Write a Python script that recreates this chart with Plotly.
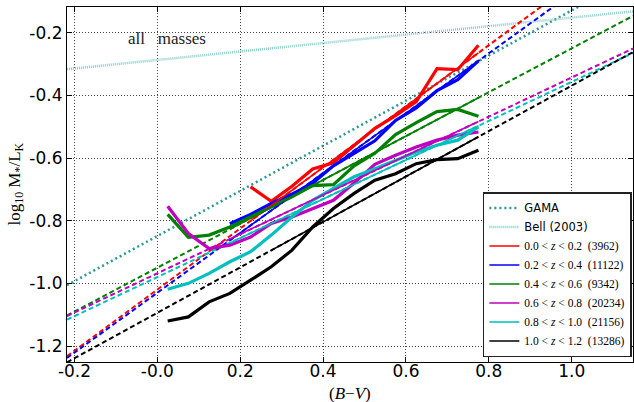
import plotly.graph_objects as go

# ---- data ----
bv = [0.025, 0.075, 0.125, 0.175, 0.225, 0.275, 0.325, 0.375,
      0.425, 0.475, 0.525, 0.575, 0.625, 0.675, 0.725, 0.775]

med_z1 = [None, None, None, None, -0.692, -0.738, -0.690, -0.635,
          -0.615, -0.560, -0.505, -0.465, -0.420, -0.315, -0.318, -0.240]
med_z2 = [None, None, None, -0.810, -0.780, -0.745, -0.715, -0.680,
          -0.625, -0.585, -0.545, -0.480, -0.440, -0.385, -0.350, -0.290]
med_z3 = [-0.780, -0.853, -0.846, -0.820, -0.788, -0.757, -0.724, -0.688,
          -0.685, -0.625, -0.585, -0.525, -0.487, -0.452, -0.445, -0.467]
med_z4 = [-0.754, -0.841, -0.889, -0.878, -0.852, -0.809, -0.788, -0.761,
          -0.735, -0.680, -0.620, -0.591, -0.565, -0.543, -0.527, -0.517]
med_z5 = [-1.019, -1.000, -0.968, -0.931, -0.899, -0.846, -0.788, -0.735,
          -0.697, -0.660, -0.634, -0.607, -0.581, -0.559, -0.543, -0.501]
med_z6 = [-1.120, -1.107, -1.059, -1.032, -0.990, -0.947, -0.894, -0.820,
          -0.761, -0.713, -0.671, -0.650, -0.618, -0.605, -0.602, -0.575]

fit_intercepts = [-1.020, -1.030, -0.950, -0.968, -0.980, -1.094]
fit_slopes = [0.975, 0.955, 0.700, 0.625, 0.623, 0.725]
fit_xmin = [0.225, 0.175, 0.175, 0.175, 0.175, 0.275]
fit_xmax = [0.775, 0.775, 0.775, 0.775, 0.775, 0.775]

bin_labels = ["0.0", "0.2", "0.4", "0.6", "0.8", "1.0", "1.2"]
bin_counts = [3962, 11122, 9342, 20234, 21156, 13286]

gama_fit = (-0.849, 0.72)
bell_fit = (-0.287, 0.135)

x_ticks = [-0.2, 0.0, 0.2, 0.4, 0.6, 0.8, 1.0]
x_ticktext = ["-0.2", "-0.0", "0.2", "0.4", "0.6", "0.8", "1.0"]
y_ticks = [-1.2, -1.0, -0.8, -0.6, -0.4, -0.2]
y_ticktext = ["-1.2", "-1.0", "-0.8", "-0.6", "-0.4", "-0.2"]

XR = [-0.218, 1.148]
YR = [-1.251, -0.118]

colors = ["#ff0000", "#0000ff", "#008000", "#bf00bf", "#00bfbf", "#000000"]
medians = [med_z1, med_z2, med_z3, med_z4, med_z5, med_z6]

SERIF = "Liberation Serif"
SANS = "DejaVu Sans"

fig = go.Figure()

xs = [XR[0], XR[1]]
fig.add_trace(go.Scatter(
    x=xs, y=[gama_fit[0] + gama_fit[1] * v for v in xs], mode="lines",
    line=dict(color="#2a9898", width=2.5, dash="2px,3px"),
    name=f"<span style='font-family:{SANS};font-size:11.5px'>GAMA</span>", legendrank=1))
fig.add_trace(go.Scatter(
    x=xs, y=[bell_fit[0] + bell_fit[1] * v for v in xs], mode="lines",
    line=dict(color="#86cccc", width=2.5, dash="1px,1px"),
    name=f"<span style='font-family:{SANS};font-size:11.5px'>Bell (2003)</span>", legendrank=2))

for i, c in enumerate(colors):
    a, b = fit_intercepts[i], fit_slopes[i]
    fig.add_trace(go.Scatter(
        x=xs, y=[a + b * v for v in xs], mode="lines",
        line=dict(color=c, width=2, dash="5px,3px"),
        showlegend=False, hoverinfo="skip"))

for i, c in enumerate(colors):
    fig.add_trace(go.Scatter(
        x=bv, y=medians[i], mode="lines",
        line=dict(color=c, width=3.2),
        showlegend=False, connectgaps=False))

for i, c in enumerate(colors):
    a, b = fit_intercepts[i], fit_slopes[i]
    fx = [fit_xmin[i], fit_xmax[i]]
    label = (f"<span style='font-size:11.5px'>{bin_labels[i]} &lt; <i>z</i> &lt; "
             f"{bin_labels[i+1]}  ({bin_counts[i]})</span>")
    fig.add_trace(go.Scatter(
        x=fx, y=[a + b * v for v in fx], mode="lines",
        line=dict(color=c, width=1.6),
        name=label, legendrank=3 + i))

fig.add_annotation(x=0.023, y=-0.218, xref="x", yref="y", text="all   masses",
                   showarrow=False, font=dict(family=SERIF, size=17, color="#222"))

# axis titles as annotations
fig.add_annotation(x=0.5, y=0, xref="paper", yref="paper", yshift=-31,
                   xanchor="center", yanchor="middle",
                   text="(<i>B</i>−<i>V</i>)", showarrow=False,
                   font=dict(family=SERIF, size=17, color="black"))
fig.add_annotation(x=0, y=0.5, xref="paper", yref="paper", xshift=-52,
                   xanchor="center", yanchor="middle",
                   text="log<sub>10</sub> M<sub>*</sub>/L<sub>K</sub>", textangle=-90,
                   showarrow=False, font=dict(family=SERIF, size=17, color="black"))

axis_common = dict(
    showgrid=True, gridcolor="#444", griddash="1px,2px", gridwidth=1,
    showline=True, linecolor="black", linewidth=1.2, mirror="ticks",
    ticks="inside", ticklen=5, tickcolor="black",
    tickfont=dict(family=SANS, size=17, color="black"),
    zeroline=False, automargin=False,
)

fig.update_layout(
    width=634, height=402,
    margin=dict(l=67, r=1, t=7, b=40),
    paper_bgcolor="white", plot_bgcolor="white",
    xaxis=dict(range=XR, tickvals=x_ticks, ticktext=x_ticktext,
               ticklabelstandoff=-7, **axis_common),
    yaxis=dict(range=YR, tickvals=y_ticks, ticktext=y_ticktext, **axis_common),
    legend=dict(x=0.998, y=0.014, xanchor="right", yanchor="bottom",
                bgcolor="white", bordercolor="#222", borderwidth=1.5,
                font=dict(family=SERIF, size=10, color="black"),
                tracegroupgap=0, itemwidth=30),
    showlegend=True,
)

fig.write_html("out.html", config={"displayModeBar": False},
               post_script="document.body.style.margin='0';")
